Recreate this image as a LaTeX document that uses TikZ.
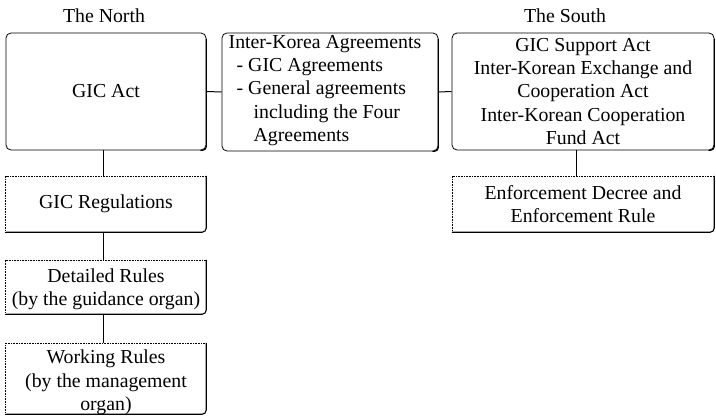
\documentclass[tikz,border=0pt]{standalone}
\usepackage{fontspec}
\setmainfont{Liberation Serif}
\usetikzlibrary{calc}
\tikzset{
  x=1bp, y=-1bp,
  txt/.style={font=\fontsize{19.8bp}{23.3bp}\selectfont, align=center, inner sep=0pt},
  topbox/.style={draw, line width=0.8bp, rounded corners=5bp, inner sep=0pt},
  lowbox/.style={inner sep=0pt},
  conn/.style={line width=1bp},
  thinside/.style={line width=0.6bp, densely dotted},
  thickside/.style={line width=1.1bp, rounded corners=4bp},
}
\begin{document}
\begin{tikzpicture}
\useasboundingbox (0,0) rectangle (716,416);
% titles
\node[txt] (tnorth) at (104,16) {The North};
\node[txt] (tsouth) at (565,16) {The South};
% top boxes
\node[topbox, minimum width=200bp, minimum height=117bp] (north) at (106,91.5) {};
\node[txt] (northtxt) at (north.center) {GIC Act};
\node[topbox, minimum width=216bp, minimum height=118bp] (inter) at (330,92) {};
\node[txt, align=left, anchor=north west] (intertxt) at (228.5,35) {Inter-Korea Agreements\\
\hspace*{8bp}- GIC Agreements\\
\hspace*{8bp}- General agreements\\
\hspace*{25bp}including the Four\\
\hspace*{25bp}Agreements};
\node[topbox, minimum width=262bp, minimum height=117bp] (south) at (583,91.5) {};
\node[txt] (southtxt) at (south.center) {GIC Support Act\\Inter-Korean Exchange and\\Cooperation Act\\Inter-Korean Cooperation\\Fund Act};
% heavier right/bottom sides of top boxes
\foreach \b in {north,inter,south}{
  \draw[thickside] ([xshift=-6bp]\b.south east) -| ([yshift=-6bp]\b.north east);
}
% lower boxes
\node[lowbox, minimum width=200bp, minimum height=56bp] (regs) at (106,204) {};
\node[txt] (regstxt) at (regs.center) {GIC Regulations};
\node[lowbox, minimum width=200bp, minimum height=54bp] (detail) at (106,287) {};
\node[txt] (detailtxt) at ([yshift=-2bp]detail.center) {Detailed Rules\\(by the guidance organ)};
\node[lowbox, minimum width=200bp, minimum height=71bp] (work) at (106,378.5) {};
\node[txt] (worktxt) at ([yshift=-4bp]work.center) {Working Rules\\(by the management\\organ)};
\node[lowbox, minimum width=262bp, minimum height=56bp] (enf) at (583,204) {};
\node[txt] (enftxt) at (enf.center) {Enforcement Decree and\\Enforcement Rule};
\foreach \b in {regs,detail,work,enf}{
  \draw[thinside] (\b.south west) -- (\b.north west) -- (\b.north east);
  \draw[thickside] (\b.south west) -| (\b.north east);
}
% connectors
\draw[conn] (north.east) -- (inter.west);
\draw[conn] (inter.east) -- (south.west);
\draw[conn] ([xshift=-3bp]north.south) -- ([xshift=-3bp]regs.north);
\draw[conn] ([xshift=-3bp]regs.south) -- ([xshift=-3bp]detail.north);
\draw[conn] ([xshift=-3bp]detail.south) -- ([xshift=-3bp]work.north);
\draw[conn] ([xshift=-7bp]south.south) -- ([xshift=-7bp]enf.north);
\end{tikzpicture}
\end{document}
